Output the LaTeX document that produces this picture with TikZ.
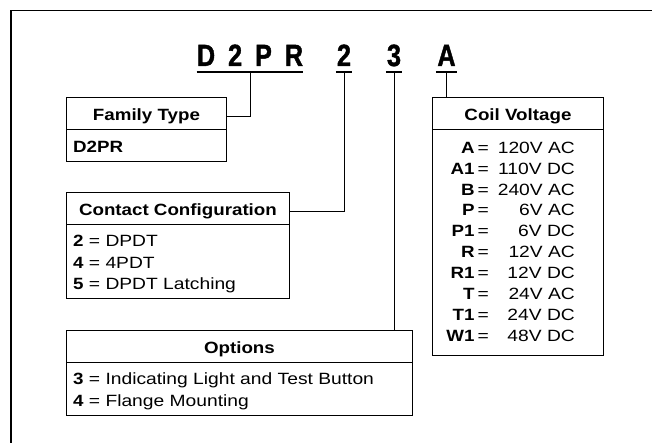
\documentclass[tikz,border=0pt]{standalone}
\usepackage{fontspec}
\setmainfont{Liberation Sans}[FakeStretch=1.18, BoldFeatures={FakeStretch=1.15}]
\newfontfamily\codefont{Liberation Sans Bold}[FakeStretch=0.82, FakeBold=1.4]
\begin{document}
\begin{tikzpicture}[x=1pt, y=-1pt]
	\tikzset{box/.style={draw=black, line width=0.9pt, inner sep=0pt, anchor=north west},
		head/.style={box, font=\fontsize{16.3}{21.5}\selectfont\bfseries, text height=14pt, text depth=0pt},
		txt/.style={inner sep=0pt, font=\fontsize{16.3}{21.5}\selectfont},
		code/.style={inner sep=0pt, anchor=base, font=\codefont\fontsize{30.7}{34}\selectfont},
		uline/.style={line width=2.6pt},
		link/.style={line width=1pt}};

	\clip (0,0) rectangle (652,443);
	\draw[line width=1.3pt] (11,460) -- (11,10.5) -- (670,10.5);

	% catalogue number
	\node[code, minimum width=106] (cD2PR) at (250,66) {D\hspace{13pt}2\hspace{13pt}P\hspace{13pt}R};
	\node[code, minimum width=16] (c2) at (344,66) {2};
	\node[code, minimum width=16] (c3) at (394,66) {3};
	\node[code, minimum width=21] (cA) at (446.5,66) {A};

	\draw[uline] ([yshift=-6pt]cD2PR.base west) -- ([yshift=-6pt]cD2PR.base east);
	\draw[uline] ([yshift=-6pt]c2.base west) -- ([yshift=-6pt]c2.base east);
	\draw[uline] ([yshift=-6pt]c3.base west) -- ([yshift=-6pt]c3.base east);
	\draw[uline] ([yshift=-6pt]cA.base west) -- ([yshift=-6pt]cA.base east);

	\coordinate (uD2PR) at ([yshift=-6pt]cD2PR.base);
	\coordinate (u2) at ([yshift=-6pt]c2.base);
	\coordinate (u3) at ([yshift=-6pt]c3.base);
	\coordinate (uA) at ([yshift=-6pt]cA.base);

	% boxes
	\node[head, minimum width=160, minimum height=32] (famhead) at (66,97) {Family Type};
	\node[box, minimum width=160, minimum height=32] (fambody) at (66,129) {};
	\node[txt, anchor=base west] (famtext) at (73,153) {\textbf{D2PR}};

	\node[head, minimum width=223, minimum height=32] (conhead) at (66,192) {Contact Configuration};
	\node[box, minimum width=223, minimum height=74] (conbody) at (66,224) {};
	\node[txt, anchor=base west] (context) at (73,247) {\begin{tabular}[t]{@{}l@{}}
		\textbf{2} = DPDT\\
		\textbf{4} = 4PDT\\
		\textbf{5} = DPDT Latching
	\end{tabular}};

	\node[head, minimum width=346, minimum height=32] (opthead) at (66,330) {Options};
	\node[box, minimum width=346, minimum height=53] (optbody) at (66,362) {};
	\node[txt, anchor=base west, font=\fontsize{16.3}{22.4}\selectfont] (opttext) at (73,384.5) {\begin{tabular}[t]{@{}l@{}}
		\textbf{3} = Indicating Light and Test Button\\
		\textbf{4} = Flange Mounting
	\end{tabular}};

	\node[head, minimum width=171, minimum height=32] (coilhead) at (432,97) {Coil Voltage};
	\node[box, minimum width=171, minimum height=226] (coilbody) at (432,129) {};
	\node[txt, anchor=base east, font=\fontsize{16.3}{20.9}\selectfont] (coiltext) at (575,153.3) {\begin{tabular}[t]{@{}r@{\hspace{3pt}=\hspace{9pt}}r@{}}
		\textbf{A} & 120V AC\\
		\textbf{A1} & 110V DC\\
		\textbf{B} & 240V AC\\
		\textbf{P} & 6V AC\\
		\textbf{P1} & 6V DC\\
		\textbf{R} & 12V AC\\
		\textbf{R1} & 12V DC\\
		\textbf{T} & 24V AC\\
		\textbf{T1} & 24V DC\\
		\textbf{W1} & 48V DC
	\end{tabular}};

	% connectors
	\draw[link] (uD2PR) |- ([yshift=-3pt]famhead.east);
	\draw[link] (u2) |- ([yshift=-3pt]conhead.east);
	\draw[link] (u3) -- (u3 |- opthead.north);
	\draw[link] (uA) -- (uA |- coilhead.north);
\end{tikzpicture}
\end{document}
